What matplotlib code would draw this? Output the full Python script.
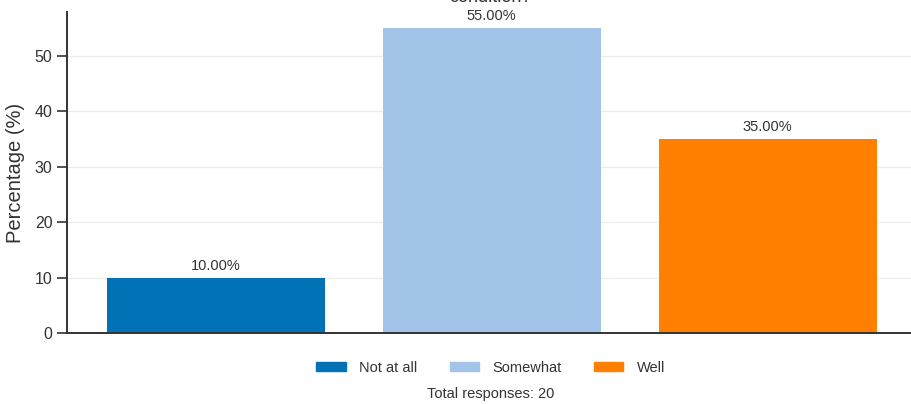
import matplotlib.pyplot as plt
from matplotlib.patches import Patch

plt.rcParams['font.family'] = ['Liberation Sans', 'DejaVu Sans']

categories = ["Not at all", "Somewhat", "Well"]
percentages = [10.0, 55.0, 35.0]
colors = ["#0072b5", "#a2c4e8", "#ff7f00"]
total_responses = 20

fig = plt.figure(figsize=(9.11, 4.04), dpi=100)
ax = fig.add_axes([67 / 911, 1 - 333 / 404, (911 - 67) / 911, (333 - 12) / 404])

x = range(len(categories))
bars = ax.bar(x, percentages, width=0.79, color=colors, zorder=2)
for b, v in zip(bars, percentages):
    ax.text(b.get_x() + b.get_width() / 2, v + 0.9, f"{v:.2f}%",
            ha='center', va='bottom', fontsize=10.5, color='#333333')

ax.set_xlim(-0.54, 2.52)
ax.set_ylim(0, 57.9)
ax.set_yticks([0, 10, 20, 30, 40, 50])
ax.set_xticks([])
ax.grid(axis='y', color='#eeeeee', linewidth=1, zorder=0)
ax.set_ylabel("Percentage (%)", fontsize=14.5, color='#333333', labelpad=7)
ax.tick_params(axis='y', labelsize=11.5, colors='#333333', length=7, width=1.2)
for s in ['top', 'right']:
    ax.spines[s].set_visible(False)
for s in ['left', 'bottom']:
    ax.spines[s].set_linewidth(1.4)
    ax.spines[s].set_color('#333333')

handles = [Patch(color=c, label=l) for c, l in zip(colors, categories)]
fig.legend(handles=handles, loc='center', bbox_to_anchor=(491 / 911, 1 - 368 / 404),
           ncol=3, frameon=False, fontsize=10.5, handlelength=2.0, handleheight=0.6,
           columnspacing=2.2, handletextpad=0.95, labelcolor='#333333')
fig.text(491 / 911, 1 - 394 / 404, f"Total responses: {total_responses}",
         ha='center', va='center', fontsize=10.5, color='#333333')

# title is cut off at the top edge in the reference
fig.text(491 / 911, 1 - 2 / 404, "condition?", ha='center', va='baseline',
         fontsize=13, color='#333333')

fig.savefig("out.png", dpi=100)
